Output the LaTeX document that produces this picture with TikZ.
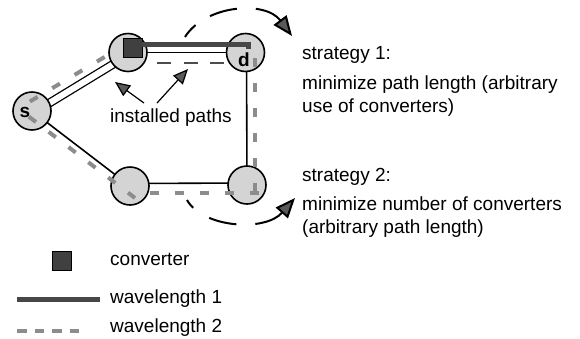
\documentclass[tikz,border=0pt]{standalone}
\usepackage{fontspec}
\setmainfont{Liberation Sans}
\usetikzlibrary{arrows.meta,calc}
\pgfdeclarelayer{bg}
\pgfsetlayers{bg,main}
\begin{document}
\begin{tikzpicture}[x=1pt,y=-1pt,
  font=\fontsize{19}{23}\selectfont,
  nd/.style={circle,draw,line width=1.6pt,fill=black!17,minimum size=38pt,inner sep=0pt},
  conv/.style={rectangle,draw=black,line width=0.8pt,fill=black!75,minimum size=19pt,inner sep=0pt},
  edgeline/.style={line width=1.6pt},
  wlone/.style={line width=5pt,draw=black!72},
  wltwo/.style={line width=4pt,draw=black!45,dash pattern=on 9pt off 16pt},
  txt/.style={anchor=base west,inner sep=0pt},
  lbl/.style={font=\fontsize{19}{23}\selectfont\bfseries,inner sep=0pt},
  strat/.style={line width=2pt,-{Triangle[length=20pt,width=16pt,fill=black!65]}},
  inst/.style={line width=1.2pt,-{Triangle[length=15pt,width=13pt,fill=black!65]}},
]
\useasboundingbox (0,0) rectangle (580,338);

% network nodes
\node[nd] (s) at (32,111) {};
\node[nd] (tl) at (128,52.5) {};
\node[nd] (d) at (245.5,52.5) {};
\node[nd] (bl) at (130,186) {};
\node[nd] (br) at (247,185) {};
\node[conv] (cv) at (132.5,47.5) {};
\node[lbl] (slab) at (25,112) {s};
\node[lbl] (dlab) at (244,60) {d};

% links
\begin{pgfonlayer}{bg}
\draw[double=white,double distance=6.2pt,line width=1.3pt]
  ($(s.center)!2.25pt!-90:(tl.center)$) -- ($(tl.center)!2.25pt!90:(s.center)$);
\draw[edgeline] (tl.center) -- (d.center);
\draw[edgeline] ([xshift=1pt]d.center) -- (br.center);
\draw[edgeline] ([yshift=2.5pt]bl.center) -- ([yshift=2pt]br.center);
\draw[edgeline] (s.center) -- (bl.center);
\end{pgfonlayer}

% wavelength 2 dashes
\coordinate (wa1) at (28.8,116.6);  \coordinate (wa2) at (135,198);
\coordinate (wb1) at (259,193); \coordinate (wb2) at (148,193);
\coordinate (wc1) at (255,58);  \coordinate (wc2) at (255,195);
\coordinate (wd1) at (29.9,101.5);  \coordinate (wd2) at (108,55);
\coordinate (we1) at (157,63);  \coordinate (we2) at (224,63);
\draw[wltwo] (wa1) -- (wa2);
\draw[wltwo] (wb1) -- (wb2);
\draw[wltwo] (wc1) -- (wc2);
\draw[wltwo,dash pattern=on 9pt off 17pt] (wd1) -- (wd2);
\draw[wltwo,line width=2.6pt,draw=black!70,dash pattern=on 14pt off 12.5pt] (we1) -- (we2);

% wavelength 1 installed path
\draw[wlone] ([yshift=3pt]cv.east) -| ([yshift=4pt,xshift=2.5pt]d.center);

% strategy arcs
\coordinate (a1s) at (185,37); \coordinate (a1e) at (292,36);
\coordinate (a2s) at (187,200); \coordinate (a2e) at (295,198);
\draw[strat,dash pattern=on 16pt off 17pt on 28pt off 19pt on 60pt]
  (a1s) .. controls (205,5) and (265,0) .. (a1e);
\draw[strat,dash pattern=on 10pt off 19pt on 28pt off 19pt on 60pt]
  (a2s) .. controls (203,228) and (265,232) .. (a2e);

% texts
\node[txt] (s1) at (302,59) {strategy 1:};
\node[txt] (s1a) at (302,89) {minimize path length (arbitrary};
\node[txt] (s1b) at (302,112) {use of converters)};
\node[txt] (s2) at (302,181) {strategy 2:};
\node[txt] (s2a) at (302,210) {minimize number of converters};
\node[txt] (s2b) at (302,233) {(arbitrary path length)};
\node[txt] (ip) at (110,122) {installed paths};

% installed-path arrows
\coordinate (t1) at (115,82);
\coordinate (t2) at (188,69);
\draw[inst] ($(ip.north west)+(34,-5)$) -- (t1);
\draw[inst] ($(ip.north west)+(47,-5)$) -- (t2);

% legend
\node[conv] (lcv) at (61.5,260.5) {};
\node[txt] (lc) at (110,265) {converter};
\coordinate (l1s) at (17,299.5); \coordinate (l1e) at (100,299.5);
\draw[wlone] (l1s) -- (l1e);
\node[txt] (l1) at (110,303) {wavelength 1};
\coordinate (l2s) at (17,330.5); \coordinate (l2e) at (80,330.5);
\draw[wltwo,dash pattern=on 9.5pt off 8pt] (l2s) -- (l2e);
\node[txt] (l2) at (110,332) {wavelength 2};
\end{tikzpicture}
\end{document}
